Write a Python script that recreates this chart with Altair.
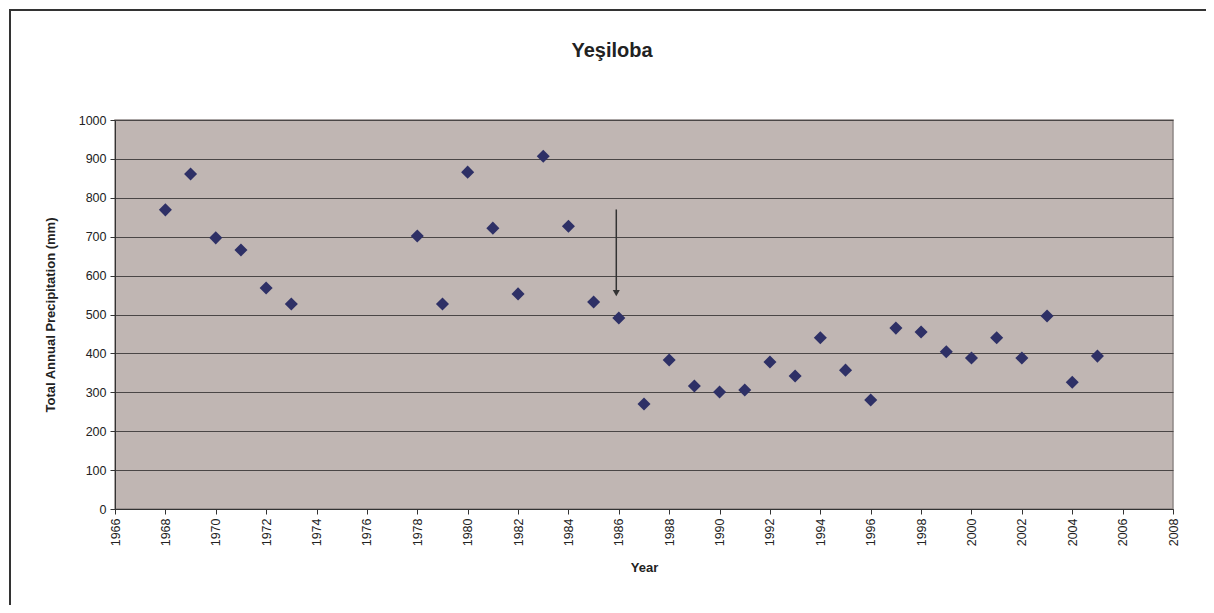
import altair as alt
import pandas as pd

years = [1968, 1969, 1970, 1971, 1972, 1973, 1978, 1979, 1980, 1981, 1982, 1983,
         1984, 1985, 1986, 1987, 1988, 1989, 1990, 1991, 1992, 1993, 1994, 1995,
         1996, 1997, 1998, 1999, 2000, 2001, 2002, 2003, 2004, 2005]
precip = [769, 861, 697, 666, 568, 527, 702, 527, 866, 722, 553, 907,
          727, 532, 491, 270, 383, 316, 301, 306, 378, 342, 440, 357,
          280, 465, 455, 404, 388, 440, 388, 496, 326, 393]

arrow_year = [1985.9]
arrow_top = [770]
arrow_bottom = [555]

x_ticks = list(range(1966, 2009, 2))
y_ticks = list(range(0, 1001, 100))

title_text = ["Yeşiloba"]

df = pd.DataFrame({"Year": years, "Precip": precip})
arrow_df = pd.DataFrame({"Year": arrow_year, "top": arrow_top, "bottom": arrow_bottom})

FONT = "Liberation Sans"

xscale = alt.Scale(domain=[1966, 2008], nice=False, zero=False)
yscale = alt.Scale(domain=[0, 1000], nice=False)

xaxis = alt.Axis(values=x_ticks, format="d", labelAngle=-90, labelAlign="right",
                 labelBaseline="middle", labelFontSize=12.5, labelColor="#222",
                 labelPadding=4, tickSize=5, tickColor="#333", domainColor="#333",
                 title="Year", titleFontSize=13, titleFontWeight="bold",
                 titlePadding=16, titleColor="#222", grid=False,
                 labelFont=FONT, titleFont=FONT)
yaxis = alt.Axis(values=y_ticks, format="d", labelFontSize=12.5, labelColor="#222",
                 tickSize=5, tickColor="#333", domainColor="#333",
                 labelPadding=4,
                 title="Total Annual Precipitation (mm)", titleFontSize=13,
                 titleFontWeight="bold", titlePadding=21, titleColor="#222",
                 grid=True, gridColor="#4a4646", gridWidth=1.2,
                 labelFont=FONT, titleFont=FONT)

points = alt.Chart(df).mark_point(
    shape="diamond", filled=True, size=170, color="#2E3066", opacity=1
).encode(
    x=alt.X("Year:Q", scale=xscale, axis=xaxis),
    y=alt.Y("Precip:Q", scale=yscale, axis=yaxis),
)

arrow_line = alt.Chart(arrow_df).mark_rule(color="#333", strokeWidth=1.5).encode(
    x=alt.X("Year:Q", scale=xscale, axis=xaxis),
    y=alt.Y("top:Q", scale=yscale, axis=yaxis),
    y2="bottom:Q",
)
arrow_head = alt.Chart(arrow_df).mark_point(
    shape="triangle-down", filled=True, size=50, color="#333", opacity=1
).encode(
    x=alt.X("Year:Q", scale=xscale, axis=xaxis),
    y=alt.Y("bottom:Q", scale=yscale, axis=yaxis),
)

frame = alt.Chart(pd.DataFrame({"a": [0]})).mark_rect(
    fillOpacity=0, stroke="#333", strokeWidth=2, clip=False
).encode(
    x=alt.value(-105), x2=alt.value(1200), y=alt.value(-110), y2=alt.value(600)
)

title = alt.Chart(pd.DataFrame({"t": title_text})).mark_text(
    font=FONT, fontSize=20, fontWeight="bold", color="#222", baseline="middle"
).encode(
    text="t:N", x=alt.value(497), y=alt.value(-69)
)

chart = alt.layer(points, arrow_line, arrow_head, frame, title).properties(
    width=1058, height=389,
    padding={"left": 107, "top": 112, "right": 33, "bottom": 96},
    autosize=alt.AutoSizeParams(type="none"),
    background="white",
).configure_view(
    fill="#C0B6B3", stroke="#8f8886", strokeWidth=1.5
)

chart.save("out.html", embed_options={"renderer": "svg", "actions": False})
